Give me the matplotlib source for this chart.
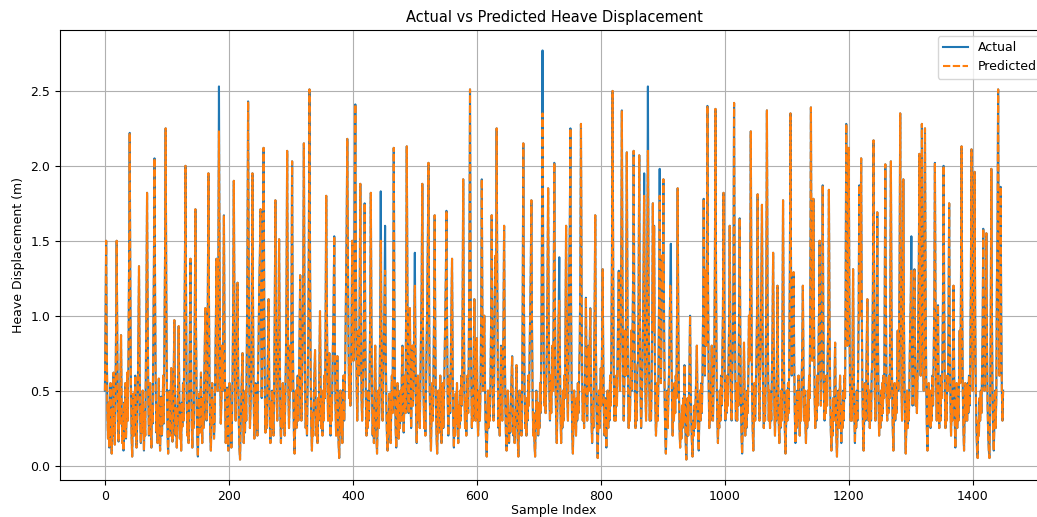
import matplotlib
matplotlib.use("Agg")
import matplotlib.pyplot as plt

title = "Actual vs Predicted Heave Displacement"
x_label = "Sample Index"
y_label = "Heave Displacement (m)"
series_labels = ["Actual", "Predicted"]

actual = [
    0.5, 0.95, 1.5, 0.8, 0.35, 0.18, 0.42, 0.12, 0.3, 0.55,
    0.25, 0.08, 0.38, 0.2, 0.62, 0.3, 0.14, 0.45, 0.9, 1.5,
    0.8, 0.35, 0.16, 0.5, 0.28, 0.6, 0.87, 0.4, 0.15, 0.33,
    0.1, 0.42, 0.24, 0.55, 0.18, 0.35, 0.62, 0.3, 0.7, 1.35,
    2.22, 1.2, 0.55, 0.2, 0.06, 0.32, 0.48, 0.2, 0.38, 0.6,
    0.25, 0.12, 0.3, 0.45, 0.85, 1.33, 0.7, 0.3, 0.15, 0.4,
    0.22, 0.5, 0.3, 0.1, 0.36, 0.2, 0.6, 1.1, 1.82, 1.0,
    0.45, 0.2, 0.38, 0.55, 0.25, 0.12, 0.4, 0.28, 0.75, 1.3,
    2.05, 1.1, 0.5, 0.22, 0.4, 0.15, 0.32, 0.58, 0.26, 0.1,
    0.3, 0.46, 0.2, 0.36, 0.6, 0.28, 0.8, 1.4, 2.25, 1.2,
    0.55, 0.22, 0.08, 0.3, 0.5, 0.2, 0.4, 0.65, 0.3, 0.16,
    0.35, 0.6, 0.97, 0.5, 0.2, 0.38, 0.12, 0.3, 0.55, 0.93,
    0.45, 0.18, 0.32, 0.1, 0.42, 0.26, 0.55, 0.3, 0.75, 1.3,
    2.0, 1.05, 0.45, 0.2, 0.35, 0.15, 0.5, 0.85, 1.38, 0.7,
    0.3, 0.12, 0.4, 0.25, 0.55, 1.0, 1.71, 0.9, 0.4, 0.18,
    0.06, 0.3, 0.48, 0.22, 0.4, 0.62, 0.3, 0.15, 0.45, 0.25,
    0.5, 0.75, 1.05, 0.6, 0.3, 0.5, 1.1, 1.95, 1.0, 0.45,
    0.2, 0.1, 0.35, 0.55, 0.28, 0.42, 0.18, 0.3, 0.6, 0.95,
    1.38, 0.8, 0.5, 1.3, 2.53, 1.35, 0.6, 0.28, 0.45, 0.8,
    0.5, 1.0, 1.67, 0.9, 0.4, 0.15, 0.3, 0.52, 0.25, 0.1,
    0.38, 0.55, 0.22, 0.4, 0.12, 0.3, 0.6, 1.1, 1.9, 1.0,
    0.5, 0.3, 0.6, 0.9, 1.22, 0.65, 0.3, 0.12, 0.04, 0.28,
    0.45, 0.6, 0.75, 0.35, 0.15, 0.4, 0.22, 0.5, 0.3, 0.8,
    1.45, 2.43, 1.3, 0.55, 0.25, 0.4, 0.6, 1.1, 1.95, 1.05,
    0.45, 0.18, 0.35, 0.55, 0.28, 0.45, 0.2, 0.6, 0.85, 1.2,
    1.4, 1.71, 0.9, 0.45, 0.8, 1.3, 2.12, 1.1, 0.5, 0.22,
    0.4, 0.25, 0.5, 0.75, 1.11, 0.6, 0.3, 0.15, 0.42, 0.25,
    0.5, 0.3, 0.2, 0.55, 1.0, 1.77, 0.95, 0.45, 0.3, 0.6,
    0.95, 1.51, 0.8, 0.35, 0.15, 0.4, 0.25, 0.55, 0.3, 0.5,
    0.2, 0.45, 0.7, 1.2, 2.1, 1.1, 0.5, 0.25, 0.45, 0.8,
    0.5, 1.1, 2.03, 1.0, 0.45, 0.2, 0.08, 0.3, 0.5, 0.25,
    0.4, 0.6, 0.3, 0.55, 0.85, 1.27, 0.7, 0.3, 0.5, 0.9,
    1.3, 2.15, 1.1, 0.5, 0.25, 0.4, 0.2, 0.5, 0.85, 1.5,
    2.51, 1.3, 0.6, 0.25, 0.1, 0.35, 0.2, 0.45, 0.6, 0.77,
    0.4, 0.2, 0.35, 0.15, 0.45, 0.3, 0.65, 1.03, 0.55, 0.25,
    0.4, 0.2, 0.5, 0.3, 0.6, 0.45, 0.9, 1.8, 1.1, 0.6,
    0.3, 0.5, 0.75, 0.4, 0.2, 0.45, 0.3, 0.6, 0.85, 1.1,
    1.53, 0.8, 0.4, 0.2, 0.45, 0.73, 0.35, 0.15, 0.05, 0.3,
    0.5, 0.22, 0.4, 0.15, 0.35, 0.6, 0.3, 0.5, 0.8, 1.2,
    1.6, 2.18, 1.4, 0.8, 0.45, 0.7, 0.4, 0.6, 1.0, 1.5,
    1.2, 0.7, 1.1, 1.7, 2.41, 1.3, 0.6, 0.3, 0.5, 0.9,
    0.6, 1.1, 1.88, 0.95, 0.45, 0.3, 0.5, 0.7, 1.1, 1.75,
    0.9, 0.45, 0.2, 0.4, 0.25, 0.5, 0.3, 0.6, 1.0, 1.82,
    0.95, 0.45, 0.2, 0.35, 0.15, 0.5, 0.8, 0.4, 0.2, 0.08,
    0.3, 0.5, 0.25, 0.45, 0.9, 1.83, 0.95, 0.5, 0.3, 0.55,
    0.85, 1.1, 1.6, 0.8, 0.4, 0.2, 0.1, 0.35, 0.22, 0.48,
    0.3, 0.15, 0.4, 0.6, 0.35, 1.1, 2.12, 1.1, 0.5, 0.25,
    0.12, 0.35, 0.55, 0.3, 0.18, 0.45, 0.25, 0.5, 0.3, 0.6,
    0.8, 0.45, 0.22, 0.4, 0.6, 0.35, 1.1, 2.13, 1.2, 0.6,
    0.35, 0.7, 1.05, 0.5, 0.25, 0.45, 0.8, 0.4, 0.6, 0.95,
    1.42, 0.75, 0.35, 0.15, 0.4, 0.6, 0.3, 0.5, 0.25, 0.55,
    0.8, 1.2, 1.88, 1.0, 0.5, 0.25, 0.4, 0.2, 0.5, 0.85,
    1.1, 1.5, 2.02, 1.05, 0.5, 0.25, 0.1, 0.35, 0.55, 0.3,
    0.6, 1.0, 1.67, 0.85, 0.4, 0.2, 0.08, 0.3, 0.5, 0.22,
    0.4, 0.6, 0.3, 0.15, 0.38, 0.55, 0.25, 0.45, 0.7, 1.0,
    1.25, 1.7, 0.9, 0.45, 0.2, 0.4, 0.6, 0.35, 0.7, 1.0,
    1.38, 0.7, 0.3, 0.12, 0.35, 0.2, 0.48, 0.28, 0.55, 0.32,
    0.15, 0.4, 0.25, 0.5, 0.3, 0.6, 0.4, 1.0, 1.91, 1.05,
    0.5, 0.25, 0.45, 0.2, 0.38, 0.6, 0.35, 0.7, 1.4, 2.51,
    1.3, 0.6, 0.25, 0.45, 0.3, 0.65, 1.11, 0.6, 0.3, 0.55,
    0.85, 0.4, 0.2, 0.35, 0.5, 0.3, 0.55, 1.0, 1.91, 1.0,
    0.5, 0.75, 1.0, 0.6, 0.3, 0.15, 0.06, 0.3, 0.5, 0.25,
    0.45, 0.3, 0.55, 0.95, 1.67, 0.9, 0.45, 0.3, 0.6, 1.1,
    1.4, 1.2, 2.25, 1.2, 0.55, 0.25, 0.45, 0.2, 0.5, 0.8,
    0.5, 0.3, 0.6, 0.95, 1.6, 0.85, 0.4, 0.2, 0.1, 0.3,
    0.5, 0.28, 0.15, 0.35, 0.22, 0.45, 0.6, 0.73, 0.4, 0.2,
    0.35, 0.15, 0.3, 0.5, 0.67, 0.35, 0.18, 0.06, 0.3, 0.5,
    0.25, 0.4, 0.2, 0.5, 1.1, 2.15, 1.1, 0.5, 0.25, 0.4,
    0.2, 0.45, 0.3, 0.6, 0.4, 0.7, 1.0, 1.3, 1.77, 0.95,
    0.45, 0.2, 0.35, 0.15, 0.06, 0.3, 0.5, 0.25, 0.42, 0.2,
    0.4, 0.25, 0.55, 0.35, 0.8, 1.5, 2.77, 1.4, 0.7, 0.4,
    0.6, 0.35, 0.55, 0.8, 1.2, 1.85, 1.0, 0.5, 0.3, 0.6,
    0.35, 0.55, 0.8, 0.5, 1.1, 2.02, 1.1, 0.55, 0.3, 0.15,
    0.4, 0.65, 1.0, 1.39, 0.75, 0.35, 0.15, 0.4, 0.25, 0.5,
    0.3, 0.6, 0.45, 0.9, 1.6, 0.9, 0.45, 0.3, 0.7, 1.3,
    1.6, 2.25, 1.1, 0.5, 0.2, 0.08, 0.35, 0.5, 0.25, 0.4,
    0.2, 0.45, 0.3, 0.55, 0.35, 0.6, 0.8, 1.3, 2.28, 1.2,
    0.55, 0.3, 0.5, 0.25, 0.45, 0.7, 1.12, 0.6, 0.3, 0.55,
    0.8, 0.5, 0.75, 1.05, 0.6, 0.3, 0.15, 0.4, 0.25, 0.6,
    1.0, 1.67, 0.85, 0.4, 0.2, 0.05, 0.3, 0.5, 0.25, 0.45,
    0.65, 0.4, 0.8, 1.31, 0.7, 0.35, 0.2, 0.45, 0.25, 0.12,
    0.35, 0.5, 0.25, 0.45, 0.3, 0.6, 0.4, 0.75, 1.4, 2.5,
    1.3, 0.6, 0.3, 0.5, 0.3, 0.6, 0.4, 0.7, 0.95, 1.3,
    0.8, 0.5, 0.9, 1.4, 2.37, 1.2, 0.6, 0.3, 0.55, 0.9,
    0.6, 1.2, 2.09, 1.1, 0.5, 0.25, 0.45, 0.3, 0.6, 0.9,
    0.5, 0.8, 1.2, 2.1, 1.1, 0.5, 0.25, 0.45, 0.3, 0.65,
    0.7, 1.15, 2.07, 1.05, 0.5, 0.25, 0.4, 0.6, 0.9, 1.3,
    1.95, 1.0, 0.5, 0.3, 0.6, 1.3, 2.53, 1.3, 0.6, 0.3,
    0.5, 0.3, 0.55, 1.0, 1.75, 0.9, 1.6, 0.8, 0.4, 0.2,
    0.35, 0.55, 0.3, 0.6, 1.1, 1.98, 1.0, 0.55, 0.9, 1.4,
    1.2, 1.91, 1.0, 0.45, 0.2, 0.08, 0.3, 0.5, 0.25, 0.45,
    0.6, 0.9, 1.2, 1.48, 0.8, 0.4, 0.2, 0.45, 0.3, 0.55,
    0.35, 0.6, 0.45, 1.0, 1.85, 1.0, 0.5, 0.25, 0.12, 0.3,
    0.18, 0.4, 0.25, 0.45, 0.3, 0.67, 0.35, 0.15, 0.04, 0.3,
    0.45, 0.2, 0.4, 0.65, 1.0, 0.55, 0.3, 0.15, 0.06, 0.3,
    0.2, 0.4, 0.25, 0.45, 0.6, 0.8, 0.4, 0.2, 0.1, 0.35,
    0.5, 0.3, 0.55, 0.35, 0.6, 1.0, 1.78, 0.95, 0.6, 1.3,
    0.8, 1.3, 2.4, 1.2, 0.55, 0.25, 0.45, 0.3, 0.55, 0.8,
    0.5, 0.3, 0.55, 0.7, 1.3, 2.38, 1.2, 0.55, 0.3, 0.15,
    0.4, 0.25, 0.5, 0.3, 0.6, 0.4, 0.7, 1.0, 1.82, 1.0,
    0.5, 0.3, 0.55, 0.35, 0.6, 0.4, 0.65, 0.95, 1.6, 0.9,
    0.45, 0.3, 0.6, 0.8, 1.3, 2.42, 1.25, 0.6, 0.3, 0.55,
    0.3, 0.55, 0.4, 0.95, 1.65, 0.9, 0.45, 0.2, 0.08, 0.3,
    0.5, 0.82, 0.45, 0.2, 0.4, 0.25, 0.5, 0.35, 0.6, 1.0,
    0.7, 1.2, 2.23, 1.15, 0.5, 0.25, 0.1, 0.35, 0.55, 0.3,
    0.5, 0.7, 1.0, 1.81, 1.0, 0.5, 0.3, 0.6, 0.9, 1.2,
    1.74, 0.9, 0.45, 0.25, 0.5, 0.3, 0.6, 1.2, 2.37, 1.2,
    0.6, 0.3, 0.5, 0.25, 0.45, 0.3, 0.6, 0.9, 1.42, 0.8,
    0.4, 0.2, 0.45, 0.3, 0.65, 1.2, 0.65, 0.3, 0.15, 0.4,
    0.25, 0.5, 0.3, 0.9, 1.77, 0.95, 0.45, 0.22, 0.08, 0.3,
    0.5, 0.3, 0.55, 0.35, 0.7, 1.3, 2.35, 1.2, 0.6, 0.8,
    1.0, 1.29, 0.7, 0.35, 0.15, 0.4, 0.25, 0.5, 0.3, 0.6,
    0.4, 0.2, 0.45, 0.3, 0.55, 0.8, 1.2, 0.65, 0.3, 0.5,
    0.3, 0.15, 0.4, 0.25, 0.5, 0.3, 0.6, 0.45, 1.2, 2.39,
    1.2, 0.7, 1.1, 1.78, 0.95, 0.45, 0.25, 0.5, 0.3, 0.6,
    0.4, 0.7, 1.0, 1.5, 0.8, 0.4, 0.6, 1.0, 1.87, 1.0,
    0.5, 0.3, 0.55, 0.35, 0.6, 0.4, 0.7, 1.0, 1.84, 1.0,
    0.5, 0.25, 0.1, 0.35, 0.2, 0.45, 0.3, 0.55, 0.82, 0.45,
    0.2, 0.06, 0.3, 0.5, 0.25, 0.42, 0.6, 0.35, 0.15, 0.4,
    0.25, 0.5, 0.3, 0.6, 0.45, 1.2, 2.28, 1.2, 0.8, 1.3,
    2.12, 1.1, 0.55, 0.3, 0.5, 0.3, 0.7, 1.31, 0.7, 0.35,
    0.15, 0.4, 0.25, 0.5, 0.3, 0.6, 1.0, 1.87, 1.0, 1.3,
    2.05, 1.05, 0.5, 0.25, 0.1, 0.35, 0.55, 0.3, 0.5, 0.8,
    1.11, 0.6, 0.3, 0.5, 0.25, 0.45, 0.3, 0.6, 0.7, 1.2,
    2.17, 1.1, 0.5, 0.3, 0.55, 0.9, 1.69, 0.9, 0.45, 0.2,
    0.4, 0.25, 0.5, 0.3, 0.55, 0.35, 0.6, 0.45, 1.1, 2.01,
    1.05, 0.5, 0.3, 0.55, 0.35, 0.6, 0.45, 1.1, 2.03, 1.05,
    0.5, 0.25, 0.1, 0.35, 0.55, 0.3, 0.5, 0.35, 0.6, 0.9,
    0.5, 0.8, 1.3, 2.35, 1.2, 0.55, 0.3, 0.9, 1.91, 1.0,
    0.5, 0.25, 0.08, 0.3, 0.5, 0.25, 0.45, 0.3, 0.6, 0.9,
    1.1, 1.53, 0.8, 0.4, 0.55, 0.8, 1.31, 0.7, 0.4, 0.6,
    0.35, 0.6, 0.9, 1.3, 2.08, 1.1, 0.6, 1.2, 2.28, 1.4,
    0.8, 0.5, 1.2, 2.25, 1.15, 0.55, 0.25, 0.1, 0.35, 0.55,
    0.3, 0.5, 0.25, 0.45, 0.3, 0.6, 0.4, 0.7, 1.1, 2.02,
    1.1, 0.55, 0.3, 0.6, 1.07, 0.55, 0.25, 0.5, 0.3, 0.6,
    0.45, 0.7, 1.1, 2.0, 1.1, 0.5, 0.25, 0.45, 0.3, 0.6,
    0.5, 1.0, 1.75, 0.9, 0.45, 0.2, 0.4, 0.3, 0.7, 1.2,
    0.65, 0.3, 0.12, 0.35, 0.55, 0.25, 0.45, 0.3, 0.6, 0.9,
    0.55, 1.15, 2.13, 1.1, 0.5, 0.25, 0.1, 0.35, 0.55, 0.3,
    0.5, 0.3, 0.55, 0.35, 0.6, 0.4, 0.7, 1.2, 2.11, 1.1,
    0.5, 0.7, 1.1, 1.96, 1.0, 0.5, 0.25, 0.1, 0.05, 0.3,
    0.2, 0.45, 0.3, 0.5, 0.35, 0.6, 0.9, 1.58, 0.85, 0.5,
    0.7, 1.0, 1.55, 0.8, 0.4, 0.2, 0.1, 0.05, 0.4, 0.9,
    1.98, 1.0, 0.45, 0.2, 0.1, 0.3, 0.5, 0.25, 0.45, 1.2,
    1.6, 2.51, 1.3, 0.6, 1.0, 1.86, 1.0, 0.5, 0.3, 0.5,
]

# Samples where the prediction visibly departs from the actual value
predicted_overrides = {
    184: 2.23, 445: 1.5, 452: 1.3, 500: 1.2, 706: 2.35, 733: 1.1,
    870: 1.8, 876: 2.1, 895: 1.8, 913: 1.15, 1301: 1.3,
}

predicted = list(actual)
for idx, val in predicted_overrides.items():
    predicted[idx] = val

sample_index = list(range(len(actual)))

fig = plt.figure(figsize=(10.37, 5.17), dpi=100)
ax = fig.add_axes([60 / 1037, 37 / 517, 988 / 1037, 450 / 517])
ax.plot(sample_index, actual, color="#1f77b4", linewidth=1.5, label=series_labels[0])
ax.plot(sample_index, predicted, color="#ff7f0e", linewidth=1.5, linestyle="--",
        dashes=(3.5, 1.2), label=series_labels[1])
ax.set_title(title, fontsize=10.5)
ax.set_xlabel(x_label, fontsize=9, labelpad=1)
ax.set_ylabel(y_label, fontsize=9)
ax.tick_params(labelsize=9)
ax.grid(True)
ax.legend(loc="upper right", fontsize=9)
fig.savefig("out.png", dpi=100)
